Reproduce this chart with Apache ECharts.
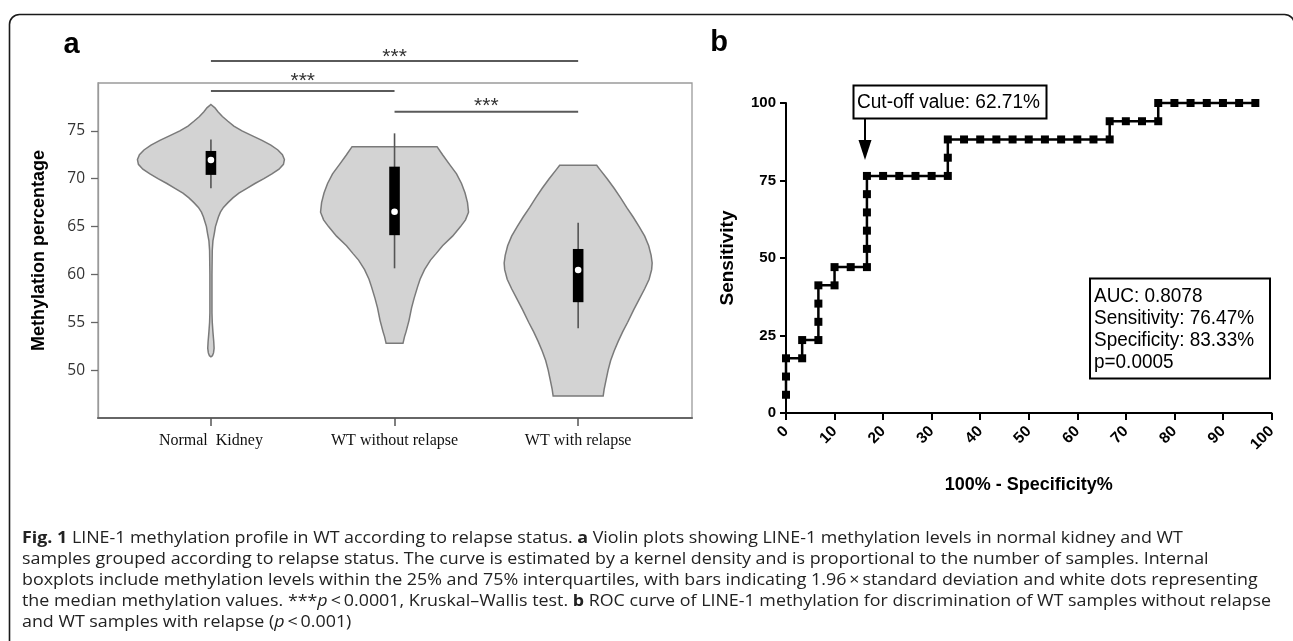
<!DOCTYPE html>
<html><head><meta charset="utf-8">
<script src="https://cdn.jsdelivr.net/npm/echarts@6/dist/echarts.min.js"></script>
<style>html,body{margin:0;padding:0;background:#fff}#c{width:1293px;height:641px}</style>
</head><body><div id="c"></div>
<script>
// ================= Panel a: violin plots =================
const categories = ['Normal  Kidney', 'WT without relapse', 'WT with relapse'];
const yTicksA = [50, 55, 60, 65, 70, 75];

// violin profiles: methylation value and relative density (1 = widest)
const nkValues  = [77.75,77.4,77.0,76.5,76.0,75.5,75.0,74.5,74.0,73.5,73.0,72.5,72.0,71.5,71.0,70.5,70.0,69.5,69.0,68.5,68.0,67.5,67.0,66.5,66.0,65.0,64.3,63.5,62.5,60.0,56.0,55.0,54.0,53.0,52.3,51.8,51.5,51.4];
const nkDensity = [0,0.054,0.095,0.155,0.23,0.31,0.42,0.554,0.69,0.81,0.905,0.966,0.993,0.98,0.92,0.824,0.716,0.595,0.486,0.378,0.297,0.23,0.169,0.128,0.101,0.061,0.046,0.027,0.018,0.014,0.014,0.018,0.027,0.038,0.043,0.035,0.02,0];
const woValues  = [73.35,72.5,71.5,70.5,69.5,68.5,67.5,66.5,65.7,65.0,64.0,63.0,62.2,61.5,60.5,59.5,58.7,57.5,56.5,55.2,54.0,53.5,52.8];
const woDensity = [0.574,0.649,0.743,0.838,0.905,0.953,0.986,1.0,0.959,0.892,0.784,0.649,0.564,0.486,0.405,0.345,0.311,0.264,0.23,0.196,0.155,0.135,0.114];
const wrValues  = [71.4,71.0,70.0,69.0,68.0,67.0,66.0,65.0,64.0,63.0,62.0,61.2,60.5,59.5,58.5,57.5,56.3,55.0,54.0,53.0,52.0,51.0,50.0,49.0,48.0,47.3];
const wrDensity = [0.25,0.29,0.392,0.486,0.574,0.655,0.743,0.824,0.899,0.953,0.986,1.0,0.993,0.959,0.899,0.831,0.75,0.669,0.601,0.541,0.486,0.439,0.405,0.378,0.351,0.338];

// inner boxplots
const whiskerLow  = [69.0, 60.64, 54.37];
const boxQ1       = [70.4, 64.1, 57.1];
const boxMedian   = [71.95, 66.55, 60.46];
const boxQ3       = [72.9, 71.26, 62.66];
const whiskerHigh = [74.1, 74.74, 65.4];

// significance brackets (category positions 1..3)
const sigFrom  = [1, 1, 2];
const sigTo    = [3, 2, 3];
const sigLevel = [82.3, 79.16, 77.0];
const sigTextLevel = [83.2, 80.75, 78.05];
const sigLabel = ['***', '***', '***'];

// ================= Panel b: ROC curve =================
const rocFPR = [0,0,0,3.33,3.33,6.67,6.67,6.67,6.67,10,10,13.33,16.67,16.67,16.67,16.67,16.67,16.67,20,23.33,26.67,30,33.33,33.33,33.33,36.67,40,43.33,46.67,50,53.33,56.67,60,63.33,66.67,66.67,70,73.33,76.67,76.67,80,83.33,86.67,90,93.33,96.67];
const rocTPR = [5.88,11.76,17.65,17.65,23.53,23.53,29.41,35.29,41.18,41.18,47.06,47.06,47.06,52.94,58.82,64.71,70.59,76.47,76.47,76.47,76.47,76.47,76.47,82.35,88.24,88.24,88.24,88.24,88.24,88.24,88.24,88.24,88.24,88.24,88.24,94.12,94.12,94.12,94.12,100,100,100,100,100,100,100];
const cutoffText = 'Cut-off value: 62.71%';
const statsLines = ['AUC: 0.8078', 'Sensitivity: 76.47%', 'Specificity: 83.33%', 'p=0.0005'];

// caption (segments: [text, style])
const captionLines = [
  [['Fig. 1','b'],[' LINE-1 methylation profile in WT according to relapse status. ','n'],['a','b'],[' Violin plots showing LINE-1 methylation levels in normal kidney and WT','n']],
  [['samples grouped according to relapse status. The curve is estimated by a kernel density and is proportional to the number of samples. Internal','n']],
  [['boxplots include methylation levels within the 25% and 75% interquartiles, with bars indicating 1.96\u2009\u00d7\u2009standard deviation and white dots representing','n']],
  [['the median methylation values. ***','n'],['p','i'],['\u2009<\u20090.0001, Kruskal\u2013Wallis test. ','n'],['b','b'],[' ROC curve of LINE-1 methylation for discrimination of WT samples without relapse','n']],
  [['and WT samples with relapse (','n'],['p','i'],['\u2009<\u20090.001)','n']]
];

// ---------------- helpers ----------------
const violinValues = [nkValues, woValues, wrValues];
const violinDensity = [nkDensity, woDensity, wrDensity];
const VIOLIN_HALF = 0.403;
const mctx = document.createElement('canvas').getContext('2d');
function measure(t, size, fam, weight, style) {
  mctx.font = (style || 'normal') + ' ' + (weight || 'normal') + ' ' + size + 'px ' + fam;
  return mctx.measureText(t).width;
}
const NARROW = '"Liberation Sans Narrow", "Liberation Sans", Arial, sans-serif';
const CAPF = '"Open Sans", "Noto Sans", sans-serif';
const CAPSIZE = 16;
const CAP_LEFT = 22;
const CAP_RIGHT = 1271;
const capFill = '#222';
const richStyles = {
  n: { fontSize: CAPSIZE, fontFamily: CAPF, fill: capFill },
  b: { fontSize: CAPSIZE, fontFamily: CAPF, fontWeight: 'bold', fill: capFill },
  i: { fontSize: CAPSIZE, fontFamily: CAPF, fontStyle: 'italic', fill: capFill }
};
function partWidth(p) {
  return measure(p[0], CAPSIZE, CAPF, p[1] === 'b' ? 'bold' : 'normal', p[1] === 'i' ? 'italic' : 'normal');
}
const segsWidth = segs => segs.reduce((a, p) => a + partWidth(p), 0);
// horizontal glyph scale: the two longest lines reach the right margin
const capScale = Math.min((CAP_RIGHT - CAP_LEFT) / segsWidth(captionLines[2]), (CAP_RIGHT - CAP_LEFT) / segsWidth(captionLines[3]));
const capY = [538.5, 559.6, 580.7, 601.8, 622.9];
const captionGraphics = captionLines.map((l, i) => ({
  type: 'text', x: CAP_LEFT, y: capY[i], scaleX: capScale,
  style: { text: l.map(p => '{' + p[1] + '|' + p[0] + '}').join(''), verticalAlign: 'middle', align: 'left',
    fontSize: CAPSIZE, fontFamily: CAPF, fill: capFill, rich: richStyles }
}));

const cutScale = 183 / measure(cutoffText, 20, NARROW);
const statScale = 160 / measure(statsLines[1], 20, NARROW);
const statY = [296.5, 318.5, 340.5, 362.5];

function violinRender(params, api) {
  const i = params.dataIndex, c = i + 1;
  const vals = violinValues[i], dens = violinDensity[i];
  const right = [], left = [];
  for (let k = 0; k < vals.length; k++) {
    right.push(api.coord([c + dens[k] * VIOLIN_HALF, vals[k]]));
    left.push(api.coord([c - dens[k] * VIOLIN_HALF, vals[k]]));
  }
  return { type: 'polygon', shape: { points: right.concat(left.reverse()) },
    style: { fill: '#d3d3d3', stroke: '#7a7a7a', lineWidth: 1.5 } };
}
function boxRender(params, api) {
  const i = params.dataIndex, c = i + 1;
  const lo = api.coord([c, whiskerLow[i]]), hi = api.coord([c, whiskerHigh[i]]);
  const q1 = api.coord([c, boxQ1[i]]), q3 = api.coord([c, boxQ3[i]]), md = api.coord([c, boxMedian[i]]);
  return { type: 'group', children: [
    { type: 'line', shape: { x1: lo[0], y1: lo[1], x2: hi[0], y2: hi[1] }, style: { stroke: '#555', lineWidth: 1.6 } },
    { type: 'rect', shape: { x: q1[0] - 5.3, y: q3[1], width: 10.6, height: q1[1] - q3[1] }, style: { fill: '#000' } },
    { type: 'circle', shape: { cx: md[0], cy: md[1], r: 3.3 }, style: { fill: '#fff' } }
  ] };
}
function sigRender(params, api) {
  const i = params.dataIndex;
  const a = api.coord([sigFrom[i], sigLevel[i]]), b = api.coord([sigTo[i], sigLevel[i]]);
  const t = api.coord([(sigFrom[i] + sigTo[i]) / 2, sigTextLevel[i]]);
  return { type: 'group', children: [
    { type: 'line', shape: { x1: a[0], y1: a[1], x2: b[0], y2: b[1] }, style: { stroke: '#5a5a5a', lineWidth: 2 } },
    { type: 'text', x: t[0], y: t[1] + 5, style: { text: sigLabel[i], fill: '#333', fontSize: 21, fontFamily: '"Liberation Sans", sans-serif', align: 'center', verticalAlign: 'middle' } }
  ] };
}

const chart = echarts.init(document.getElementById('c'), null, { renderer: 'canvas' });
chart.setOption({
  animation: false,
  backgroundColor: '#fff',
  grid: [
    { left: 98, top: 83, width: 594, height: 335, show: true, borderColor: '#9a9a9a', borderWidth: 1.3, backgroundColor: 'transparent' },
    { left: 786, top: 103, width: 485.5, height: 310 }
  ],
  xAxis: [
    { gridIndex: 0, type: 'value', min: 0.385, max: 3.62, splitLine: { show: false },
      axisLine: { show: true, lineStyle: { color: '#666', width: 2 } },
      axisTick: { show: true, customValues: [1, 2, 3], length: 8, lineStyle: { color: '#555', width: 1.5 } },
      axisLabel: { show: true, customValues: [1, 2, 3], formatter: v => categories[Math.round(v) - 1] || '',
        fontFamily: '"Liberation Serif", serif', fontSize: 16, color: '#111', margin: 15 } },
    { gridIndex: 1, type: 'value', min: 0, max: 100, interval: 10, splitLine: { show: false },
      name: '100% - Specificity%', nameLocation: 'middle', nameGap: 63,
      nameTextStyle: { fontFamily: '"Liberation Sans", Arial, sans-serif', fontWeight: 'bold', fontSize: 18, color: '#000' },
      axisLine: { show: true, lineStyle: { color: '#000', width: 2 } },
      axisTick: { show: true, length: 7, lineStyle: { color: '#000', width: 2 } },
      axisLabel: { rotate: 45, margin: 16, fontFamily: '"Liberation Sans", Arial, sans-serif', fontWeight: 'bold', fontSize: 15.5, color: '#000' } }
  ],
  yAxis: [
    { gridIndex: 0, type: 'value', min: 45, max: 80, splitLine: { show: false },
      name: 'Methylation percentage', nameLocation: 'middle', nameGap: 50,
      nameTextStyle: { fontFamily: '"Liberation Sans", Arial, sans-serif', fontWeight: 'bold', fontSize: 18, color: '#000' },
      axisLine: { show: true, lineStyle: { color: '#9a9a9a', width: 1.3 } },
      axisTick: { show: true, customValues: yTicksA, length: 7, lineStyle: { color: '#666', width: 1.3 } },
      axisLabel: { customValues: yTicksA, margin: 13, fontFamily: '"Open Sans", sans-serif', fontSize: 15.5, color: '#333' } },
    { gridIndex: 1, type: 'value', min: 0, max: 100, interval: 25, splitLine: { show: false },
      name: 'Sensitivity', nameLocation: 'middle', nameGap: 49,
      nameTextStyle: { fontFamily: '"Liberation Sans", Arial, sans-serif', fontWeight: 'bold', fontSize: 19, color: '#000' },
      axisLine: { show: true, lineStyle: { color: '#000', width: 2 } },
      axisTick: { show: true, length: 6, lineStyle: { color: '#000', width: 2 } },
      axisLabel: { margin: 10, fontFamily: '"Liberation Sans", Arial, sans-serif', fontWeight: 'bold', fontSize: 15, color: '#000' } }
  ],
  series: [
    { type: 'custom', name: 'violin', xAxisIndex: 0, yAxisIndex: 0, renderItem: violinRender,
      data: categories.map((c, i) => [i + 1, boxMedian[i]]), z: 2 },
    { type: 'custom', name: 'box', xAxisIndex: 0, yAxisIndex: 0, renderItem: boxRender,
      data: categories.map((c, i) => [i + 1, boxMedian[i]]), z: 3 },
    { type: 'custom', name: 'significance', xAxisIndex: 0, yAxisIndex: 0, renderItem: sigRender, clip: false,
      data: sigFrom.map((f, i) => [(f + sigTo[i]) / 2, sigLevel[i]]), z: 4 },
    { type: 'line', name: 'ROC', xAxisIndex: 1, yAxisIndex: 1, clip: false,
      data: rocFPR.map((x, i) => [x, rocTPR[i]]),
      symbol: 'rect', symbolSize: 8, showAllSymbol: true,
      lineStyle: { color: '#000', width: 2.5 }, itemStyle: { color: '#000' }, z: 5 }
  ],
  graphic: [
    { type: 'rect', shape: { x: 9.5, y: 14.5, width: 1285, height: 700, r: [10, 10, 0, 0] },
      style: { fill: 'none', stroke: '#1a1a1a', lineWidth: 1.6 }, silent: true },
    { type: 'text', x: 71.5, y: 45, style: { text: 'a', fontFamily: '"Liberation Sans", Arial, sans-serif', fontWeight: 'bold', fontSize: 29, fill: '#000', align: 'center', verticalAlign: 'middle' } },
    { type: 'text', x: 719, y: 43, style: { text: 'b', fontFamily: '"Liberation Sans", Arial, sans-serif', fontWeight: 'bold', fontSize: 29, fill: '#000', align: 'center', verticalAlign: 'middle' } },
    // cut-off annotation
    { type: 'rect', shape: { x: 853.5, y: 85.5, width: 193, height: 33 }, style: { fill: '#fff', stroke: '#000', lineWidth: 2 } },
    { type: 'text', x: 857, y: 102, scaleX: cutScale, style: { text: cutoffText, fontFamily: NARROW, fontSize: 20, fill: '#000', align: 'left', verticalAlign: 'middle' } },
    { type: 'line', shape: { x1: 865, y1: 118, x2: 865, y2: 142 }, style: { stroke: '#000', lineWidth: 2 } },
    { type: 'polygon', shape: { points: [[858.5, 140], [871.5, 140], [865, 160]] }, style: { fill: '#000' } },
    // stats box
    { type: 'rect', shape: { x: 1090, y: 278.5, width: 180, height: 100 }, style: { fill: '#fff', stroke: '#000', lineWidth: 2 } },
    ...statsLines.map((t, i) => ({ type: 'text', x: 1094, y: statY[i], scaleX: statScale,
      style: { text: t, fontFamily: NARROW, fontSize: 20, fill: '#000', align: 'left', verticalAlign: 'middle' } })),
    ...captionGraphics
  ]
});
</script></body></html>
